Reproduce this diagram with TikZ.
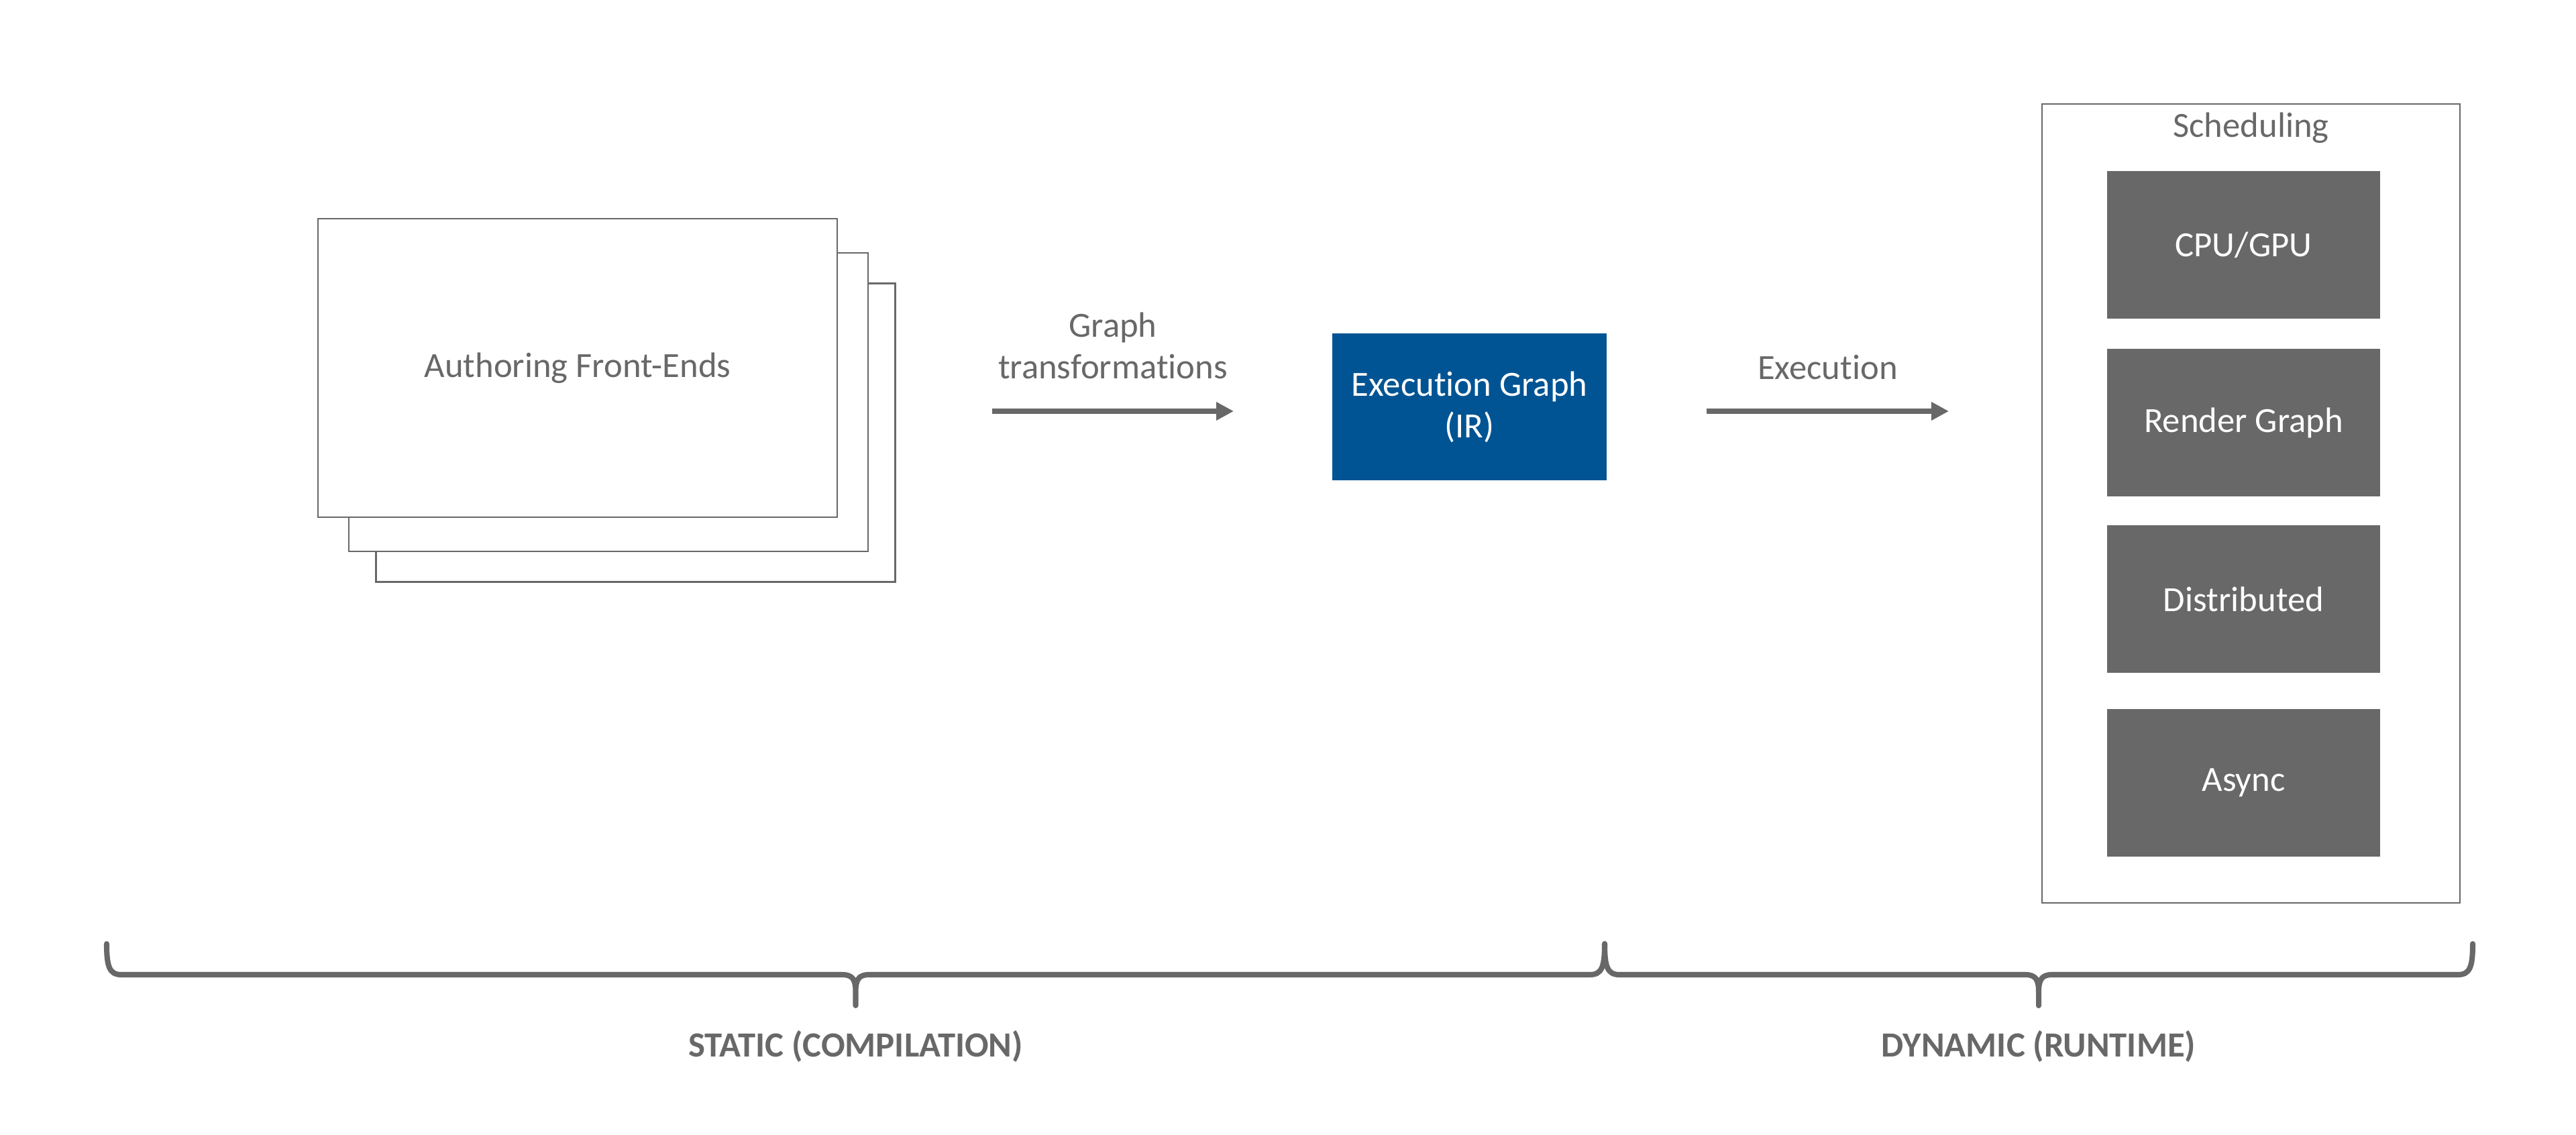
\documentclass[tikz,border=0pt]{standalone}
\usepackage{fontspec}
\setmainfont{Carlito}[Ligatures=NoCommon]
\usetikzlibrary{arrows.meta,calc,positioning}
\definecolor{figG}{RGB}{104,104,104}
\definecolor{figB}{RGB}{0,84,147}

\begin{document}
\begin{tikzpicture}[>={Triangle[length=2.6mm,width=2.6mm]},
  every node/.style={font=\fontsize{15}{17.6}\selectfont,text=figG},
  page/.style={draw=figG,line width=0.8pt,fill=white,minimum width=7.74cm,minimum height=4.45cm},
  unit/.style={fill=figG,text=white,minimum width=4.07cm,minimum height=2.2cm},
  flow/.style={->,draw=figG,fill=figG,line width=2.5pt},
  phase/.style={draw=figG,line width=2.3pt,line cap=round,line join=round},
  phaselabel/.style={font=\fontsize{15}{17.6}\selectfont\bfseries}]
\useasboundingbox (0,0) rectangle (38.4,16.91);
\node[page] (fe3) at (9.475,10.46) {};
\node[page] (fe2) at (9.07,10.915) {};
\node[page] (fe1) at (8.61,11.425) {Authoring Front-Ends};
\node[fill=figB,text=white,minimum width=4.09cm,minimum height=2.19cm,align=center] (eg) at (21.905,10.845) {Execution Graph\\(IR)};
\coordinate (gt0) at (14.79,10.78);
\coordinate (gt1) at (18.39,10.78);
\coordinate (ex0) at (25.44,10.78);
\coordinate (ex1) at (29.05,10.78);
\draw[flow] (gt0) -- (gt1) node[midway,above=4.4mm,inner sep=0,align=center] {Graph\\transformations};
\draw[flow] (ex0) -- (ex1) node[midway,above=4.3mm,inner sep=0] {Execution};
\node[draw=figG,line width=0.8pt,minimum width=6.23cm,minimum height=11.91cm] (sched) at (33.555,9.405) {};
\node[below=0.14cm of sched.north,inner sep=0] (schedlabel) {Scheduling};
\foreach \n/\y/\t in {cpu/13.255/{CPU/GPU},rg/10.61/{Render Graph},dist/7.98/{Distributed},async/5.24/{Async}}
  \node[unit] (\n) at (33.445,\y) {\t};
\foreach \a/\b in {1.59/23.92,23.92/36.86}{
  \pgfmathsetmacro\m{(\a+\b)/2}
  \draw[phase] (\a,2.84) .. controls (\a,2.50) and (\a+0.04,2.38) .. (\a+0.22,2.38) -- (\m-0.2,2.38)
    .. controls (\m-0.04,2.38) and (\m,2.30) .. (\m,2.12) -- (\m,1.92) -- (\m,2.12)
    .. controls (\m,2.30) and (\m+0.04,2.38) .. (\m+0.2,2.38) -- (\b-0.22,2.38)
    .. controls (\b-0.04,2.38) and (\b,2.50) .. (\b,2.84);
}
\node[phaselabel] (static) at (12.755,1.31) {STATIC (COMPILATION)};
\node[phaselabel] (dynamic) at (30.39,1.31) {DYNAMIC (RUNTIME)};
\end{tikzpicture}
\end{document}
